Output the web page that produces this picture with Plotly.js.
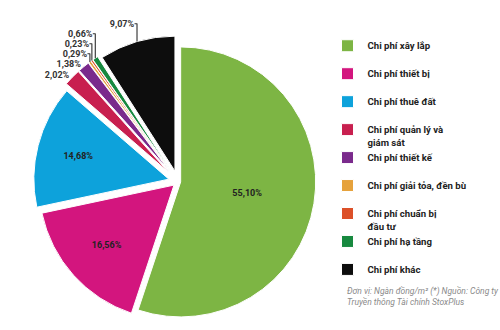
<!DOCTYPE html>
<html>
<head>
<meta charset="utf-8">
<script src="https://cdn.plot.ly/plotly-3.0.1.min.js"></script>
<style>html,body{margin:0;padding:0;background:#fff;}#chart{width:500px;height:330px;}</style>
</head>
<body>
<div id="chart"></div>
<script>
const categories = [
  "Chi phí xây lắp",
  "Chi phí thiết bị",
  "Chi phí thuê đất",
  "Chi phí quản lý và<br>giám sát",
  "Chi phí thiết kế",
  "Chi phí giải tỏa, đền bù",
  "Chi phí chuẩn bị<br>đầu tư",
  "Chi phí hạ tầng",
  "Chi phí khác"
];
const shares = [55.10, 16.56, 14.68, 2.02, 1.38, 0.29, 0.23, 0.66, 9.07];
const colors = ["#7db544", "#d3157e", "#0da2db", "#c81f4f", "#7a2a8c", "#e6a23c", "#dc5029", "#17893f", "#0d0d0d"];
const pulls = [0.02, 0.04, 0.07, 0.1, 0.1, 0.1, 0.1, 0.1, 0.08];
const footnote = "Đơn vị: Ngàn đồng/m² (*) Nguồn: Công ty<br>Truyền thông Tài chính StoxPlus";

const labelText = shares.map(v => v.toFixed(2).replace('.', ',') + '%');
const legendNames = categories.map(c => c.indexOf('<br>') >= 0 ? c : c + '<br> ');
const positions = shares.map(v => v > 10 ? 'inside' : 'outside');

const trace = {
  type: 'pie',
  labels: legendNames,
  values: shares,
  text: labelText,
  textinfo: 'text',
  textposition: positions,
  insidetextorientation: 'horizontal',
  sort: false,
  direction: 'clockwise',
  rotation: 0,
  pull: pulls,
  marker: {colors: colors, line: {color: '#ffffff', width: 1}},
  textfont: {family: 'Roboto', size: 9, color: '#222', weight: 'bold'},
  insidetextfont: {family: 'Roboto', size: 9, color: '#222', weight: 'bold'},
  outsidetextfont: {family: 'Roboto', size: 9, color: '#333', weight: 'bold'},
  domain: {x: [0.058, 0.654], y: [0.0, 0.9]},
  automargin: false,
  hoverinfo: 'label+text'
};

const layout = {
  width: 500, height: 330,
  margin: {l: 0, r: 0, t: 0, b: 0},
  paper_bgcolor: '#ffffff',
  showlegend: true,
  legend: {
    x: 0.655, y: 0.9, xanchor: 'left', yanchor: 'top',
    valign: 'top',
    font: {family: 'Roboto', size: 9.6, color: '#222', weight: 'bold'},
    itemwidth: 30,
    traceorder: 'normal',
    bgcolor: 'rgba(0,0,0,0)'
  },
  annotations: [{
    xref: 'paper', yref: 'paper', x: 0.69, y: 0.14,
    xanchor: 'left', yanchor: 'top', align: 'left', showarrow: false,
    text: '<i>' + footnote + '</i>',
    font: {family: 'Roboto', size: 8.5, color: '#8a8a8a'}
  }]
};

Plotly.newPlot('chart', [trace], layout, {displayModeBar: false, staticPlot: true});
</script>
</body>
</html>
